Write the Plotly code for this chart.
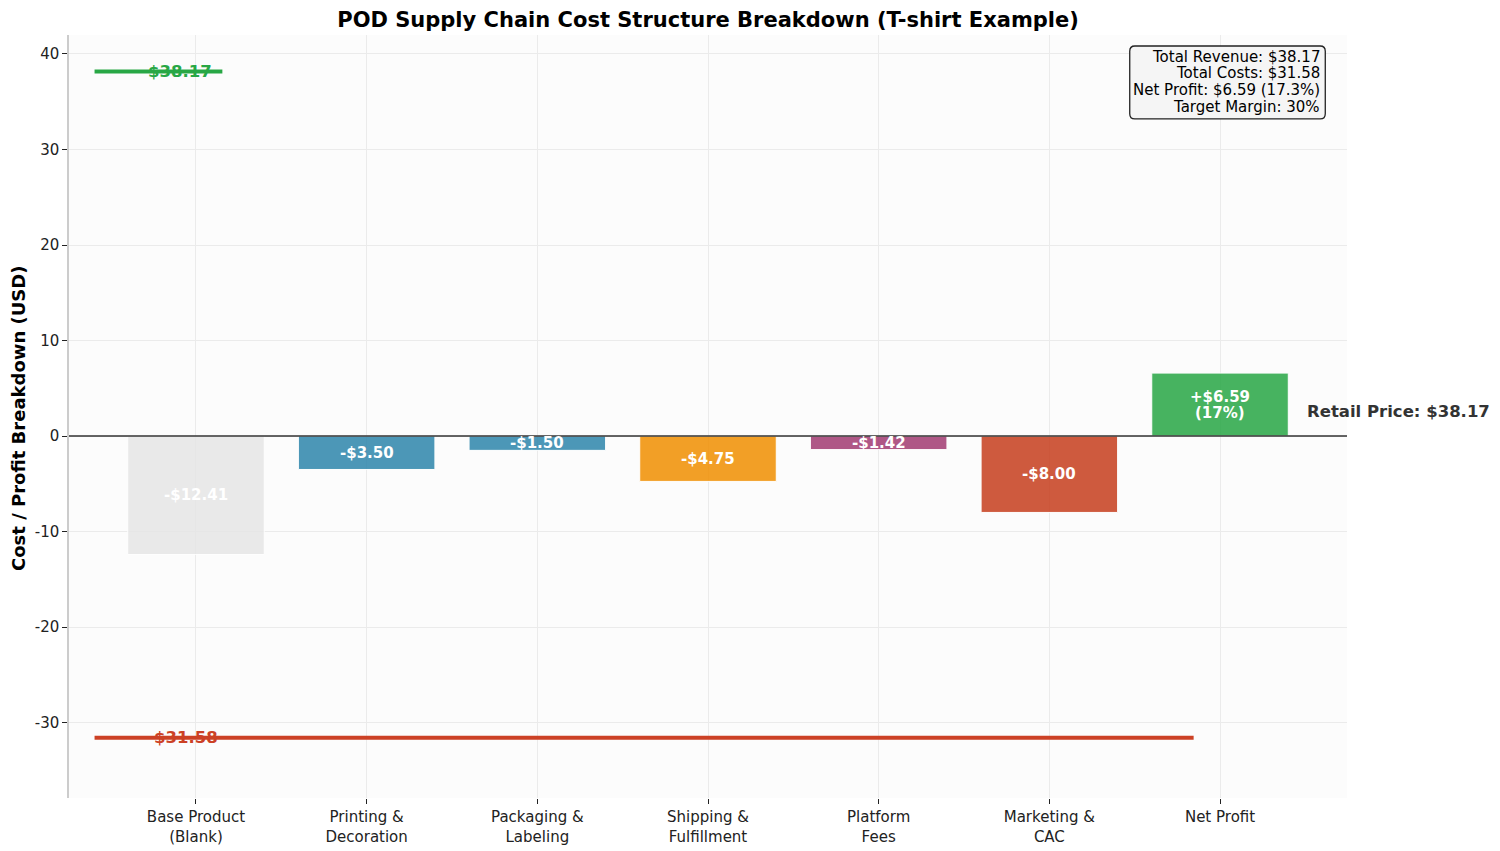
import plotly.graph_objects as go

categories = ["Base Product<br>(Blank)", "Printing &<br>Decoration", "Packaging &<br>Labeling",
              "Shipping &<br>Fulfillment", "Platform<br>Fees", "Marketing &<br>CAC", "Net Profit"]
values = [-12.41, -3.50, -1.50, -4.75, -1.42, -8.00, 6.59]
bar_labels = ["-$12.41", "-$3.50", "-$1.50", "-$4.75", "-$1.42", "-$8.00", "+$6.59<br>(17%)"]
bar_colors = ["#E6E6E6", "#2E86AB", "#2E86AB", "#F18F01", "#A23B72", "#C73E1D", "#28A745"]
revenue = 38.17
total_costs = 31.58
summary_lines = ["Total Revenue: $38.17", "Total Costs: $31.58",
                 "Net Profit: $6.59 (17.3%)", "Target Margin: 30%"]
y_ticks = [-30, -20, -10, 0, 10, 20, 30, 40]

FONT = "DejaVu Sans"
x_idx = list(range(len(categories)))

fig = go.Figure()
fig.add_trace(go.Bar(
    x=x_idx, y=values, width=0.8,
    marker=dict(color=bar_colors, opacity=0.85, line=dict(color="white", width=1)),
    hoverinfo="skip", showlegend=False,
))

annotations = []
for i, (v, lab) in enumerate(zip(values, bar_labels)):
    parts = lab.split("<br>")
    n = len(parts)
    for k, part in enumerate(parts):
        annotations.append(dict(x=i, y=v / 2, text=f"<b>{part}</b>", showarrow=False,
                                font=dict(family=FONT, size=15, color="white"),
                                xanchor="center", yanchor="middle",
                                yshift=((n - 1) / 2 - k) * 16))

# revenue, cost and zero reference lines
shapes = [
    dict(type="line", xref="x domain", yref="y", x0=0.02, x1=0.12, y0=revenue, y1=revenue,
         line=dict(color="#28A745", width=4), layer="above"),
    dict(type="line", xref="x domain", yref="y", x0=0.02, x1=0.88, y0=-total_costs, y1=-total_costs,
         line=dict(color="#CC4125", width=4), layer="above"),
    dict(type="line", xref="x domain", yref="y", x0=0, x1=1, y0=0, y1=0,
         line=dict(color="#333333", width=1.5), layer="above"),
]
annotations.append(dict(x=-0.29, y=revenue, text=f"<b>${revenue:.2f}</b>", showarrow=False,
                        font=dict(family=FONT, size=16.5, color="#28A745"),
                        xanchor="left", yanchor="middle"))
annotations.append(dict(x=-0.26, y=-total_costs, text=f"<b>${total_costs:.2f}</b>", showarrow=False,
                        font=dict(family=FONT, size=16.5, color="#CC4125"),
                        xanchor="left", yanchor="middle"))
annotations.append(dict(x=6.5, y=2.6, text=f"<b>Retail Price: ${revenue:.2f}</b>", showarrow=False,
                        font=dict(family=FONT, size=16.5, color="#333333"),
                        xanchor="left", yanchor="middle"))

# summary box (rounded rectangle + right-aligned lines)
bx0, bx1, by0, by1 = 0.830, 0.983, 0.890, 0.9856
rx, ry = 0.004, 0.0068
box_path = (f"M {bx0+rx},{by0} L {bx1-rx},{by0} Q {bx1},{by0} {bx1},{by0+ry} "
            f"L {bx1},{by1-ry} Q {bx1},{by1} {bx1-rx},{by1} L {bx0+rx},{by1} "
            f"Q {bx0},{by1} {bx0},{by1-ry} L {bx0},{by0+ry} Q {bx0},{by0} {bx0+rx},{by0} Z")
shapes.append(dict(type="path", xref="paper", yref="paper", path=box_path,
                   fillcolor="#F5F5F5", line=dict(color="#222222", width=1.3), layer="above"))
line_y = [0.9712, 0.9502, 0.9279, 0.9056]
for ly, txt in zip(line_y, summary_lines):
    annotations.append(dict(xref="paper", yref="paper", x=0.9805, y=ly, text=txt,
                            showarrow=False, xanchor="right", yanchor="middle",
                            font=dict(family=FONT, size=15, color="black")))

# y-axis title
annotations.append(dict(xref="paper", yref="paper", x=-0.0399, y=0.498,
                        text="<b>Cost / Profit Breakdown (USD)</b>", textangle=-90,
                        showarrow=False, xanchor="center", yanchor="middle",
                        font=dict(family=FONT, size=18, color="black")))

fig.update_layout(
    width=1500, height=851,
    margin=dict(l=61, r=161, t=27, b=61, autoexpand=False),
    paper_bgcolor="white", plot_bgcolor="#FCFCFC",
    font=dict(family=FONT, size=15, color="#222222"),
    title=dict(text="<b>POD Supply Chain Cost Structure Breakdown (T-shirt Example)</b>",
               xref="container", x=0.4667, xanchor="center",
               yref="container", y=0.986, yanchor="middle",
               font=dict(family=FONT, size=21, color="black")),
    shapes=shapes, annotations=annotations,
)
fig.update_xaxes(
    range=[-0.744, 6.744], tickmode="array", tickvals=x_idx, ticktext=categories,
    showgrid=True, gridcolor="#EBEBEB", gridwidth=1, zeroline=False,
    ticks="outside", ticklen=5, tickcolor="#222222", showline=False, automargin=False,
    tickfont=dict(family=FONT, size=15, color="#222222"),
)
fig.update_yaxes(
    range=[-31.58 * 1.2, 38.17 * 1.1], tickmode="array", tickvals=y_ticks,
    ticktext=[str(t) for t in y_ticks],
    showgrid=True, gridcolor="#EBEBEB", gridwidth=1, zeroline=False,
    ticks="outside", ticklen=5, tickcolor="#222222", automargin=False,
    showline=True, linecolor="#CCCCCC", linewidth=1.5,
    tickfont=dict(family=FONT, size=15, color="#222222"),
)

fig.write_html("out.html")
